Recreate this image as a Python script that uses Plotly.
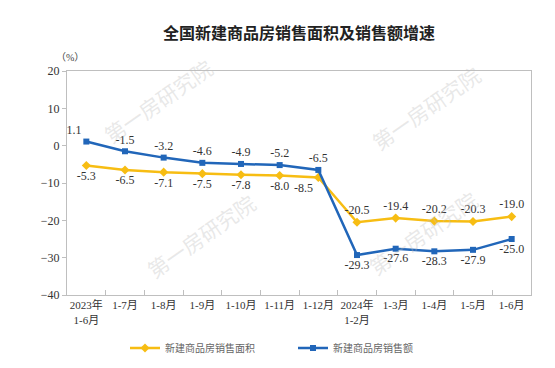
import plotly.graph_objects as go

categories = ["2023年<br>1-6月", "1-7月", "1-8月", "1-9月", "1-10月", "1-11月", "1-12月",
              "2024年<br>1-2月", "1-3月", "1-4月", "1-5月", "1-6月"]
area_growth = [-5.3, -6.5, -7.1, -7.5, -7.8, -8.0, -8.5, -20.5, -19.4, -20.2, -20.3, -19.0]
sales_growth = [1.1, -1.5, -3.2, -4.6, -4.9, -5.2, -6.5, -29.3, -27.6, -28.3, -27.9, -25.0]
series_names = ["新建商品房销售面积", "新建商品房销售额"]
y_ticks = [20, 10, 0, -10, -20, -30, -40]

YELLOW = "#F7BD13"
BLUE = "#2166B9"
SERIF = "Liberation Serif, Noto Sans CJK SC"

# plot area in pixels
L, R, T, B = 59, 523, 63, 287


def px(xp):
    return (xp - L) / (R - L)


def py(yp):
    return (B - yp) / (B - T)


area_pos = ["bottom center"] * 6 + ["bottom left"] + ["top center"] * 5
sales_pos = ["top left"] + ["top center"] * 6 + ["bottom center"] * 5

fig = go.Figure()
fig.add_trace(go.Scatter(
    x=categories, y=area_growth, name=series_names[0], mode="lines+markers+text",
    line=dict(color=YELLOW, width=2.5), marker=dict(symbol="diamond", size=7, color=YELLOW),
    text=[f"{v:.1f}" for v in area_growth], textposition=area_pos,
    textfont=dict(family=SERIF, size=12, color="#333333"), cliponaxis=False,
))
fig.add_trace(go.Scatter(
    x=categories, y=sales_growth, name=series_names[1], mode="lines+markers+text",
    line=dict(color=BLUE, width=2.5), marker=dict(symbol="square", size=6, color=BLUE),
    text=[f"{v:.1f}" for v in sales_growth], textposition=sales_pos,
    textfont=dict(family=SERIF, size=12, color="#333333"), cliponaxis=False,
))

# watermarks
for (wx, wy) in [(150, 93), (418, 100), (415, 225), (193, 228)]:
    fig.add_annotation(text="第一房研究院", x=px(wx), y=py(wy), xref="paper", yref="paper",
                       xanchor="center", yanchor="middle", showarrow=False, textangle=-35,
                       font=dict(family="Noto Sans CJK SC", size=21, color="rgba(190,190,190,0.35)"))

fig.add_annotation(text="（%）", x=px(62), y=py(49), xref="paper", yref="paper",
                   xanchor="center", yanchor="middle", showarrow=False,
                   font=dict(family=SERIF, size=10, color="#444444"))

fig.update_layout(
    width=555, height=368,
    margin=dict(l=L, r=555 - R, t=T, b=368 - B, autoexpand=False),
    paper_bgcolor="white", plot_bgcolor="white",
    title=dict(text="<b>全国新建商品房销售面积及销售额增速</b>", x=0.5, xref="paper", xanchor="center",
               y=1 - 25 / 368, yanchor="middle",
               font=dict(family="Noto Sans CJK SC", size=16, color="#222222")),
    showlegend=True,
    legend=dict(orientation="h", x=px(117), xanchor="left", y=py(340), yanchor="middle",
                font=dict(family="Noto Sans CJK SC", size=10, color="#666666"),
                entrywidth=123, entrywidthmode="pixels", itemwidth=30),
    xaxis=dict(type="category", range=[-0.5, 11.5], showline=True, linecolor="#BFBFBF", linewidth=1,
               mirror=True, ticks="inside", tickson="boundaries", ticklen=5, tickcolor="#BFBFBF",
               showgrid=False, zeroline=False, tickangle=0,
               tickfont=dict(family=SERIF, size=11, color="#333333")),
    yaxis=dict(range=[-40, 20], tickvals=y_ticks, showline=True, linecolor="#BFBFBF", linewidth=1,
               mirror=True, ticks="outside", ticklen=4, tickcolor="#BFBFBF", showgrid=False,
               zeroline=False, tickfont=dict(family=SERIF, size=12, color="#333333")),
)

fig.write_html("out.html")
